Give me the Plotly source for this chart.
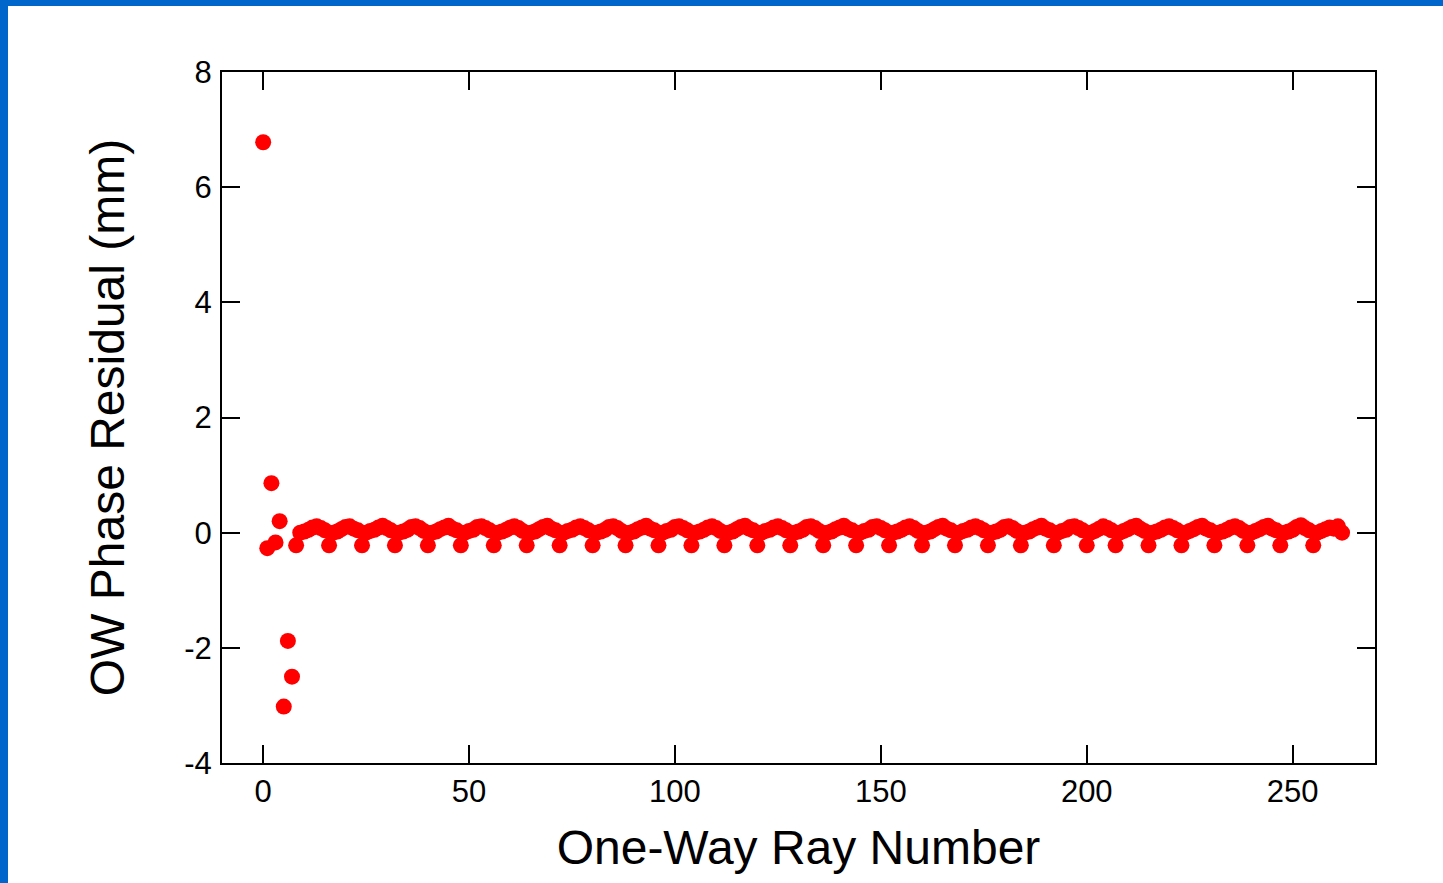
import plotly.graph_objects as go

# OW phase residual (mm) per one-way ray
residual_mm = [
    6.78, -0.27, 0.86, -0.17, 0.20, -3.02, -1.88, -2.50,
    -0.22, 0.00, 0.02, 0.05, 0.09, 0.11, 0.08, 0.04,
    -0.22, 0.00, 0.02, 0.06, 0.10, 0.11, 0.07, 0.04,
    -0.22, 0.00, 0.03, 0.05, 0.09, 0.12, 0.08, 0.04,
    -0.22, 0.00, 0.02, 0.05, 0.10, 0.11, 0.08, 0.03,
    -0.22, 0.00, 0.02, 0.06, 0.09, 0.12, 0.07, 0.04,
    -0.22, 0.00, 0.03, 0.05, 0.10, 0.11, 0.08, 0.04,
    -0.22, 0.00, 0.02, 0.05, 0.09, 0.11, 0.08, 0.03,
    -0.22, 0.00, 0.02, 0.06, 0.10, 0.12, 0.07, 0.04,
    -0.22, 0.00, 0.03, 0.05, 0.09, 0.11, 0.08, 0.04,
    -0.22, 0.00, 0.02, 0.05, 0.10, 0.11, 0.08, 0.03,
    -0.22, 0.00, 0.02, 0.06, 0.09, 0.12, 0.07, 0.04,
    -0.22, 0.00, 0.03, 0.05, 0.10, 0.11, 0.08, 0.04,
    -0.22, 0.00, 0.02, 0.05, 0.09, 0.11, 0.08, 0.03,
    -0.22, 0.00, 0.02, 0.06, 0.10, 0.12, 0.07, 0.04,
    -0.22, 0.00, 0.03, 0.05, 0.09, 0.11, 0.08, 0.04,
    -0.22, 0.00, 0.02, 0.05, 0.10, 0.11, 0.08, 0.03,
    -0.22, 0.00, 0.02, 0.06, 0.09, 0.12, 0.07, 0.04,
    -0.22, 0.00, 0.03, 0.05, 0.10, 0.11, 0.08, 0.04,
    -0.22, 0.00, 0.02, 0.05, 0.09, 0.11, 0.08, 0.03,
    -0.22, 0.00, 0.02, 0.06, 0.10, 0.12, 0.07, 0.04,
    -0.22, 0.00, 0.03, 0.05, 0.09, 0.11, 0.08, 0.04,
    -0.22, 0.00, 0.02, 0.05, 0.10, 0.11, 0.08, 0.03,
    -0.22, 0.00, 0.02, 0.06, 0.09, 0.12, 0.07, 0.04,
    -0.22, 0.00, 0.03, 0.05, 0.10, 0.11, 0.08, 0.04,
    -0.22, 0.00, 0.03, 0.07, 0.11, 0.08, 0.04,
    -0.22, 0.00, 0.03, 0.06, 0.10, 0.12, 0.07, 0.03,
    -0.22, 0.00, 0.02, 0.05, 0.09, 0.11, 0.08, 0.04,
    -0.22, 0.00, 0.03, 0.06, 0.10, 0.12, 0.07, 0.04,
    -0.22, 0.00, 0.02, 0.05, 0.09, 0.11, 0.08, 0.03,
    -0.22, 0.00, 0.03, 0.06, 0.10, 0.12, 0.07, 0.04,
    -0.22, 0.00, 0.02, 0.05, 0.10, 0.13, 0.08, 0.04,
    -0.22, 0.00, 0.03, 0.06, 0.09, 0.07, 0.11, 0.00,
]
ray_number = list(range(len(residual_mm)))

x_ticks = [0, 50, 100, 150, 200, 250]
x_tick_labels = ["0", "50", "100", "150", "200", "250"]
y_ticks = [-4, -2, 0, 2, 4, 6, 8]
y_tick_labels = ["-4", "-2", "0", "2", "4", "6", "8"]

x_title = "One-Way Ray Number"
y_title = "OW Phase Residual (mm)"

FONT = "Liberation Sans, Arial, Helvetica, sans-serif"
W, H = 1443, 883
L, R, T, B = 222, 68, 72, 120
pw, ph = W - L - R, H - T - B

fig = go.Figure()
fig.add_trace(go.Scatter(
    x=ray_number, y=residual_mm, mode="markers",
    marker=dict(color="#ff0000", size=16, line=dict(width=0)),
    showlegend=False, cliponaxis=False,
))

axis_common = dict(
    showgrid=False, zeroline=False, showline=True, linecolor="black",
    linewidth=2, mirror="ticks", ticks="inside", ticklen=18, tickwidth=2,
    tickcolor="black", tickfont=dict(family=FONT, size=31, color="black"),
)
fig.update_xaxes(
    range=[-10, 270], tickvals=x_ticks, ticktext=x_tick_labels,
    ticklabelstandoff=0,
    title=dict(text=x_title, font=dict(family=FONT, size=48, color="black"),
               standoff=22),
    **axis_common,
)
fig.update_yaxes(
    range=[-4, 8], tickvals=y_ticks, ticktext=y_tick_labels,
    ticklabelstandoff=2,
    title=dict(text=y_title, font=dict(family=FONT, size=48, color="black"),
               standoff=44),
    **axis_common,
)

# blue frame along the top and left edges of the page
fig.add_shape(type="rect", xref="paper", yref="paper", layer="above",
              x0=-L / pw, x1=(W - L) / pw, y0=1 + (T - 6) / ph, y1=1 + T / ph,
              fillcolor="#0066cc", line=dict(width=0))
fig.add_shape(type="rect", xref="paper", yref="paper", layer="above",
              x0=-L / pw, x1=-(L - 8) / pw, y0=-B / ph, y1=1 + T / ph,
              fillcolor="#0066cc", line=dict(width=0))

fig.update_layout(
    width=W, height=H,
    margin=dict(l=L, r=R, t=T, b=B, pad=0),
    paper_bgcolor="white", plot_bgcolor="white",
    font=dict(family=FONT, color="black"),
)

fig.write_html("out.html",
               config={"displayModeBar": False},
               post_script="document.body.style.margin='0';"
                           "document.body.style.overflow='hidden';")
